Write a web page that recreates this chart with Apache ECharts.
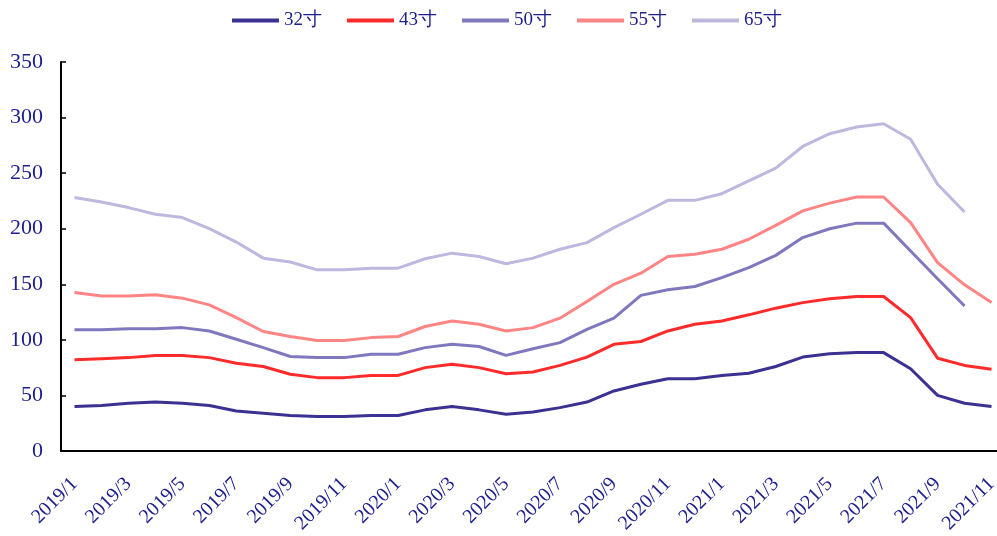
<!DOCTYPE html>
<html>
<head>
<meta charset="utf-8">
<script src="https://cdn.jsdelivr.net/npm/echarts@6/dist/echarts.min.js"></script>
<style>html,body{margin:0;padding:0;background:#fff;overflow:hidden}#c{width:1005px;height:536px}</style>
</head>
<body>
<div id="c"></div>
<script>
const categories = [
  '2019/1','2019/2','2019/3','2019/4','2019/5','2019/6','2019/7','2019/8','2019/9','2019/10','2019/11','2019/12',
  '2020/1','2020/2','2020/3','2020/4','2020/5','2020/6','2020/7','2020/8','2020/9','2020/10','2020/11','2020/12',
  '2021/1','2021/2','2021/3','2021/4','2021/5','2021/6','2021/7','2021/8','2021/9','2021/10','2021/11'
];
const seriesNames = ['32寸','43寸','50寸','55寸','65寸'];
const s32 = [40,41,43,44,43,41,36,34,32,31,31,32,32,37,40,37,33,35,39,44,54,60,65,65,68,70,76,84.5,87.5,88.5,88.5,74,50,43,40];
const s43 = [82,83,84,86,86,84,79,76,69,66,66,68,68,75,78,75,69.5,71,77,84.5,96,98.5,108,114,117,122.5,128.5,133.5,137,139,139,120,83.5,77,73.5];
const s50 = [109,109,110,110,111,108,100.5,93,85,84,84,87,87,93,96,94,86,92,97.5,109.5,119.5,140,145,148,156,165,176,192,200,205,205,180,155,130.5,null];
const s55 = [142.5,139.5,139.5,140.5,137.5,131.5,120,107.5,103,99.5,99.5,102,103,112,117,114,108,111,119.5,134.5,150,160,175,177,181.5,190.5,203,216,223,228.5,228.5,205.5,169.5,149.5,133.5];
const s65 = [228,224,219,213,210,200,188,173.5,170,163,163,164.5,164.5,173,178,175,168.5,173.5,181.5,187.5,201,213,225.5,225.5,231.5,243,254.5,274,285.5,291.5,294.5,280.5,240,215,null];
const yTicks = { min: 0, max: 350, interval: 50 };
const colors = ['#3B3192','#FF2B2B','#8078BE','#FF8585','#BDB8DD'];

const textColor = '#1E1E8C';
const font = '"Liberation Serif", "Times New Roman", serif';
const data = [s32, s43, s50, s55, s65];

const chart = echarts.init(document.getElementById('c'));
chart.setOption({
  animation: false,
  color: colors,
  legend: {
    top: 6,
    left: 227,
    icon: 'rect',
    itemWidth: 47,
    itemHeight: 4,
    itemGap: 25,
    textStyle: { color: textColor, fontFamily: font, fontSize: 19 },
    data: seriesNames
  },
  grid: { left: 61, right: 0, top: 62, bottom: 84, containLabel: false },
  xAxis: {
    type: 'category',
    data: categories,
    boundaryGap: true,
    axisLine: { lineStyle: { color: '#000', width: 2 } },
    axisTick: { inside: true, interval: 1, length: 5, lineStyle: { color: '#000', width: 1.5 } },
    axisLabel: { interval: 1, rotate: 45, color: textColor, fontFamily: font, fontSize: 20, margin: 30 },
    splitLine: { show: false }
  },
  yAxis: {
    type: 'value',
    min: yTicks.min, max: yTicks.max, interval: yTicks.interval,
    axisLine: { show: true, lineStyle: { color: '#000', width: 2 } },
    axisTick: { show: true, inside: true, length: 5, lineStyle: { color: '#000', width: 1.5 } },
    axisLabel: { color: textColor, fontFamily: font, fontSize: 22, margin: 18 },
    splitLine: { show: false }
  },
  series: seriesNames.map((n, i) => ({
    name: n,
    type: 'line',
    data: data[i],
    symbol: 'none',
    lineStyle: { width: 3, color: colors[i] },
    itemStyle: { color: colors[i] }
  }))
});
</script>
</body>
</html>
